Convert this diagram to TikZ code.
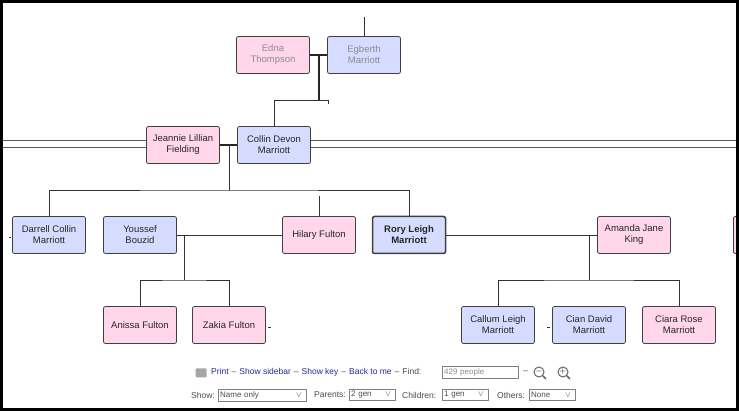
\documentclass[tikz,border=0pt]{standalone}
\usepackage{fontspec}
\setmainfont{Liberation Sans}
\definecolor{pinkbox}{RGB}{255,214,234}
\definecolor{bluebox}{RGB}{214,220,255}
\definecolor{linkblue}{RGB}{40,40,150}
\newcommand{\sep}{\hspace{3pt}{\color{black!70}--}\hspace{3pt}}
\tikzset{
  person/.style={draw=black!75, line width=0.8pt, rounded corners=2pt,
    minimum width=73pt, minimum height=37pt, inner sep=1pt, align=center,
    font=\fontsize{9.5}{11}\selectfont, text=black!85},
  female/.style={person, fill=pinkbox},
  male/.style={person, fill=bluebox},
  faded/.style={text=black!45},
  link/.style={black!80, line width=0.7pt},
  couple/.style={black!85, line width=2pt},
  menu/.style={font=\fontsize{8.5}{9}\selectfont, inner sep=1pt},
  field/.style={draw=black!50, minimum height=11pt, inner sep=2pt, anchor=west,
    align=left, font=\fontsize{8}{9}\selectfont, text=black!70}
}
\begin{document}
\begin{tikzpicture}[x=1pt,y=-1pt]
	\useasboundingbox (0,0) rectangle (739,411);
	\fill[white] (0,0) rectangle (739,411);
	% grandparents
	\node[female, faded] (edna) at (273,55) {Edna\\Thompson};
	\node[male, faded] (egberth) at (364,55) {Egberth\\Marriott};
	% parents
	\node[female] (jeannie) at (183,145) {Jeannie Lillian\\Fielding};
	\node[male] (collin) at (274,145) {Collin Devon\\Marriott};
	% generation of Rory
	\node[male] (darrell) at (49,235) {Darrell Collin\\Marriott};
	\node[male] (youssef) at (140,235) {Youssef\\Bouzid};
	\node[female] (hilary) at (319,235) {Hilary Fulton};
	\node[male, line width=1.5pt, font=\fontsize{9.5}{11}\selectfont\bfseries] (rory) at (409,235) {Rory Leigh\\Marriott};
	\node[female] (amanda) at (634,235) {Amanda Jane\\King};
	\node[female, anchor=west] (edge) at (733,235) {};
	% children
	\node[female] (anissa) at (140,325) {Anissa Fulton};
	\node[female] (zakia) at (229,325) {Zakia Fulton};
	\node[male] (callum) at (498,325) {Callum Leigh\\Marriott};
	\node[male] (cian) at (589,325) {Cian David\\Marriott};
	\node[female] (ciara) at (679,325) {Ciara Rose\\Marriott};
	% connectors
	\coordinate (gp) at (319,55);
	\coordinate (pp) at (229,145);
	\coordinate (hy) at (184,235);
	\coordinate (ra) at (589,235);
	\draw[couple] (edna) -- (egberth);
	\draw[couple] (jeannie) -- (collin);
	\draw[link] (youssef) -- (hilary);
	\draw[link] (rory) -- (amanda);
	\draw[couple, line width=1.5pt] (gp) -- (319,100);
	\draw[link] (319,100) -| (collin.north);
	\draw[link] (319,100) -- (328,100) -- (328,104);
	\draw[link] (egberth.north) -- ++(0,-19) -- ++(1,0);
	\draw[link] (pp) -- (229,190);
	\draw[link] (darrell.north) |- (229,190) -| (rory.north);
	\draw[link] (hilary.north) -- ++(0,-20) -- ++(1,0);
	\draw[link] (hy) -- (184,280);
	\draw[link] (anissa.north) |- (184,280) -| (zakia.north);
	\draw[link] (ra) -- (589,280);
	\draw[link] (callum.north) |- (589,280) -| (ciara.north);
	\draw[link] (zakia.east) ++(2,2) -- ++(3,0);
	\draw[link] (cian.west) ++(-5,2) -- ++(3,0);
	\draw[link] (darrell.west) ++(-3,2) -- ++(2,0);
	% double rule behind the parents
	\foreach \y in {141,148} {
		\draw[black!65, line width=1pt] (3,\y) -- (jeannie.west |- 0,\y);
		\draw[black!65, line width=1pt] (collin.east |- 0,\y) -- (736,\y);
	}
	% toolbar
	\node[fill=black!35, rounded corners=1pt, minimum width=11pt, minimum height=9pt, inner sep=0pt] (printer) at (201,373) {};
	\node[menu, anchor=west, text=linkblue] (links) at (210,372)
		{Print\sep Show sidebar\sep Show key\sep Back to me\sep\textcolor{black!70}{Find:}};
	\node[field, text width=72pt, text=black!45] (find) at (442,372) {429 people};
	\node[menu, anchor=west, text=black!70] (dash) at (522,372) {--};
	\node[draw=black!60, circle, line width=1pt, minimum size=10pt, inner sep=0pt, font=\fontsize{8}{8}\selectfont] (zoomout) at (539,372) {$-$};
	\node[draw=black!60, circle, line width=1pt, minimum size=10pt, inner sep=0pt, font=\fontsize{8}{8}\selectfont] (zoomin) at (563,372) {$+$};
	\draw[black!60, line width=1.5pt] (zoomout.-45) -- ++(3,3);
	\draw[black!60, line width=1.5pt] (zoomin.-45) -- ++(3,3);
	\node[menu, anchor=west, text=black!70] (show) at (190,395) {Show:};
	\node[field, text width=84pt] (showf) at (218,395) {Name only\hfill\rlap{\kern-8pt$\vee$}};
	\node[menu, anchor=west, text=black!70] (par) at (313,395) {Parents:};
	\node[field, text width=42pt] (parf) at (349,395) {2 gen\hfill\rlap{\kern-8pt$\vee$}};
	\node[menu, anchor=west, text=black!70] (chi) at (401,395) {Children:};
	\node[field, text width=42pt] (chif) at (442,395) {1 gen\hfill\rlap{\kern-8pt$\vee$}};
	\node[menu, anchor=west, text=black!70] (oth) at (496,395) {Others:};
	\node[field, text width=42pt] (othf) at (529,395) {None\hfill\rlap{\kern-8pt$\vee$}};
	% frame
	\draw[black, line width=3pt] (1.5,1.5) rectangle (737.5,409.5);
\end{tikzpicture}
\end{document}
